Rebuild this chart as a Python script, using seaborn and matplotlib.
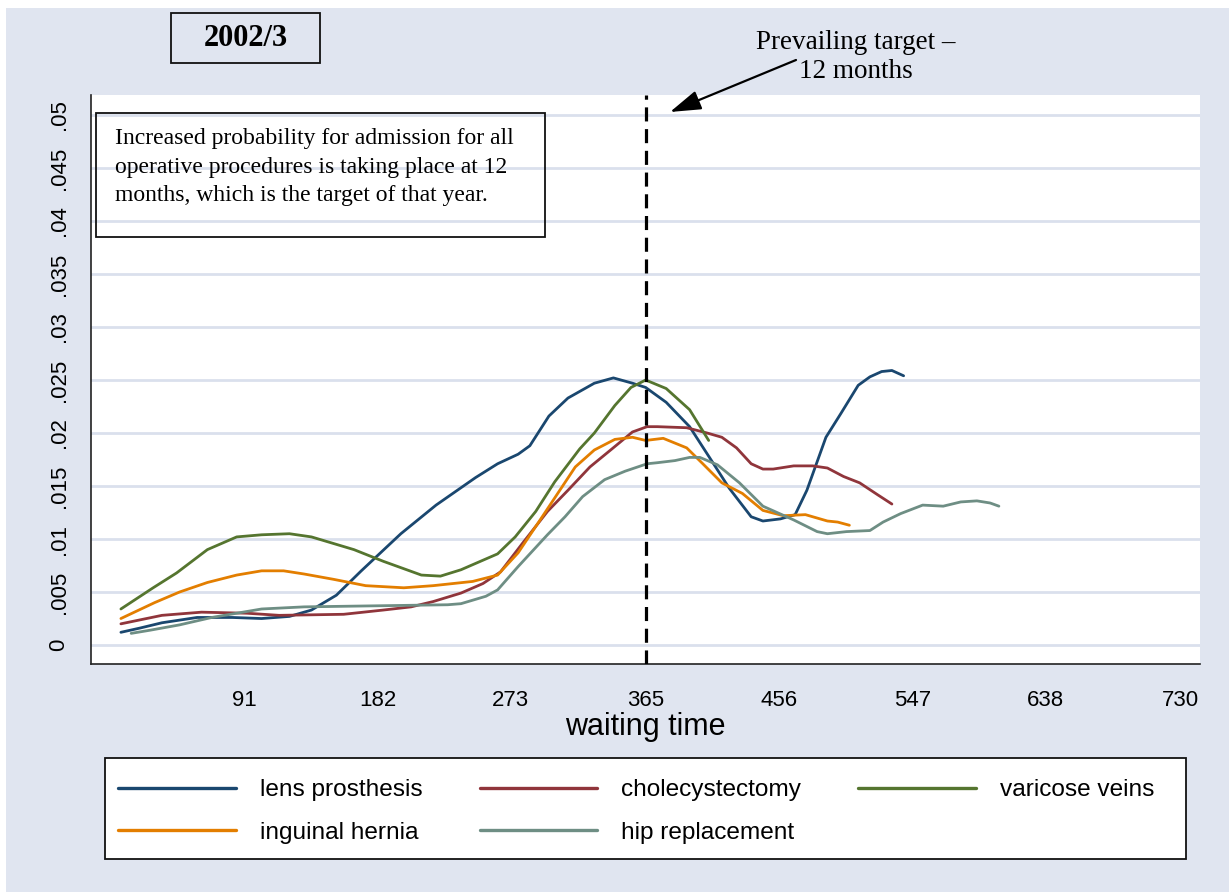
import matplotlib
matplotlib.use("Agg")
import matplotlib.pyplot as plt
from matplotlib.patches import Rectangle, FancyArrowPatch
from matplotlib.lines import Line2D
import pandas as pd
import seaborn as sns

# ---- data: smoothed admission hazard by waiting time (days) ----
lens_x = [7, 20, 35, 59, 83, 103, 122, 137, 154, 171, 198, 222, 249, 264, 278, 286,
          299, 312, 330, 343, 356, 365, 379, 395, 409, 422, 437, 445, 457, 467, 475,
          488, 498, 510, 518, 526, 533, 541]
lens_y = [.0012, .0016, .0021, .0026, .0026, .0025, .0027, .0033, .0047, .0070, .0105,
          .0132, .0158, .0171, .0180, .0188, .0216, .0233, .0247, .0252, .0247, .0243,
          .0229, .0206, .0176, .0148, .0121, .0117, .0119, .0123, .0146, .0196, .0218,
          .0245, .0253, .0258, .0259, .0254]

chole_x = [7, 35, 62, 93, 115, 159, 186, 205, 220, 239, 254, 266, 281, 298, 312, 327,
           342, 356, 366, 373, 393, 407, 417, 427, 437, 445, 452, 466, 479, 489, 500,
           511, 523, 533]
chole_y = [.0020, .0028, .0031, .0030, .0028, .0029, .0033, .0036, .0041, .0049, .0058,
           .0069, .0096, .0126, .0146, .0168, .0185, .0201, .0206, .0206, .0205, .0200,
           .0196, .0186, .0171, .0166, .0166, .0169, .0169, .0167, .0159, .0153, .0142,
           .0133]

varic_x = [7, 29, 45, 66, 86, 103, 122, 137, 166, 186, 212, 225, 239, 254, 264, 276,
           290, 303, 320, 330, 344, 355, 365, 379, 395, 408]
varic_y = [.0034, .0054, .0068, .0090, .0102, .0104, .0105, .0102, .0090, .0079, .0066,
           .0065, .0071, .0080, .0086, .0102, .0126, .0154, .0185, .0200, .0226, .0243,
           .0250, .0242, .0222, .0193]

hernia_x = [7, 30, 47, 66, 86, 103, 118, 132, 152, 174, 200, 220, 247, 264, 278, 293,
            305, 317, 330, 344, 356, 365, 377, 393, 404, 417, 431, 445, 459, 474, 489,
            496, 504]
hernia_y = [.0025, .0040, .0050, .0059, .0066, .0070, .0070, .0067, .0062, .0056, .0054,
            .0056, .0060, .0066, .0087, .0118, .0143, .0168, .0184, .0194, .0196, .0193,
            .0195, .0186, .0171, .0153, .0143, .0127, .0122, .0123, .0117, .0116, .0113]

hip_x = [14, 27, 47, 69, 103, 132, 181, 230, 239, 256, 264, 278, 298, 310, 322, 337,
         351, 366, 373, 385, 395, 402, 414, 429, 445, 466, 482, 489, 502, 518, 527, 539,
         554, 568, 580, 591, 600, 606]
hip_y = [.0011, .0014, .0019, .0026, .0034, .0036, .0037, .0038, .0039, .0046, .0052,
         .0074, .0104, .0121, .0140, .0156, .0164, .0171, .0172, .0174, .0177, .0177,
         .0170, .0153, .0131, .0118, .0107, .0105, .0107, .0108, .0116, .0124, .0132,
         .0131, .0135, .0136, .0134, .0131]

procedures = ["lens prosthesis", "cholecystectomy", "varicose veins",
              "inguinal hernia", "hip replacement"]
colors = ["#1A476F", "#90353B", "#55752F", "#E37E00", "#6E8E84"]

x_ticks = [91, 182, 273, 365, 456, 547, 638, 730]
y_ticks = [0, .005, .01, .015, .02, .025, .03, .035, .04, .045, .05]
y_tick_labels = ["0", ".005", ".01", ".015", ".02", ".025", ".03", ".035", ".04",
                 ".045", ".05"]
target_day = 365

series = {
    "lens prosthesis": (lens_x, lens_y),
    "cholecystectomy": (chole_x, chole_y),
    "varicose veins": (varic_x, varic_y),
    "inguinal hernia": (hernia_x, hernia_y),
    "hip replacement": (hip_x, hip_y),
}
frames = [pd.DataFrame({"days": xs, "prob": ys, "procedure": name})
          for name, (xs, ys) in series.items()]
df = pd.concat(frames, ignore_index=True)

# ---- style ----
sns.set_style("white")
BG = "#E0E5F0"
GRID = "#DAE0ED"
SANS = ["Liberation Sans", "DejaVu Sans"]
SERIF = ["Liberation Serif", "DejaVu Serif"]
plt.rcParams.update({
    "font.family": SANS,
    "text.color": "black",
    "axes.labelcolor": "black",
    "xtick.color": "black",
    "ytick.color": "black",
})

W, H = 1229, 892
fig = plt.figure(figsize=(W / 100, H / 100), dpi=100, facecolor="white")


def fx(x):
    return x / W


def fy(y):
    return 1 - y / H


# outer graph region
fig.patches.append(Rectangle((fx(6), 0), 1 - fx(6), fy(8), transform=fig.transFigure,
                             facecolor=BG, edgecolor="none", zorder=-10))

ax = fig.add_axes([fx(91), fy(664), fx(1200) - fx(91), fy(95) - fy(664)])
ax.set_facecolor("white")

sns.lineplot(data=df, x="days", y="prob", hue="procedure", hue_order=procedures,
             palette=dict(zip(procedures, colors)), linewidth=2.0, estimator=None,
             sort=False, legend=False, ax=ax)

ax.axvline(target_day, color="black", lw=2.3, linestyle=(0, (4.4, 2.4)), zorder=3)

ax.set_xlim(-13.4, 743.2)
ax.set_ylim(-0.00179, 0.05189)
ax.set_xticks(x_ticks)
ax.set_xticklabels([str(t) for t in x_ticks])
ax.set_yticks(y_ticks)
ax.set_yticklabels(y_tick_labels, rotation=90, va="center")
ax.tick_params(axis="both", length=9.4, width=1.0, color="#222222", labelsize=16,
               labelcolor="black", direction="out")
ax.tick_params(axis="x", pad=9)
ax.tick_params(axis="y", pad=6)
ax.yaxis.grid(True, color=GRID, lw=2.0)
ax.xaxis.grid(False)
ax.set_axisbelow(True)
for side in ("top", "right"):
    ax.spines[side].set_visible(False)
for side in ("left", "bottom"):
    ax.spines[side].set_color("#222222")
    ax.spines[side].set_linewidth(1.2)
ax.set_xlabel("waiting time", fontsize=22, labelpad=1)
ax.set_ylabel("")

# legend (column-major order so rows read across)
handles = {name: Line2D([], [], color=c, lw=2.4) for name, c in zip(procedures, colors)}
leg_order = ["lens prosthesis", "inguinal hernia", "cholecystectomy",
             "hip replacement", "varicose veins"]
fig.patches.append(Rectangle((fx(105), fy(859)), fx(1186) - fx(105), fy(758) - fy(859),
                             transform=fig.transFigure, facecolor="white",
                             edgecolor="#111111", lw=1.3, zorder=4))
fig.legend([handles[n] for n in leg_order], leg_order, loc="upper left",
           bbox_to_anchor=(fx(106), fy(767)), ncol=3, frameon=False, borderpad=0,
           fontsize=17.6, handlelength=4.82, handletextpad=0.98, columnspacing=2.33,
           labelspacing=0.84)

# year box
fig.patches.append(Rectangle((fx(171), fy(63)), fx(320) - fx(171), fy(13) - fy(63),
                             transform=fig.transFigure, facecolor="none",
                             edgecolor="#111111", lw=1.3, zorder=4))
fig.text(fx(245.5), fy(38), "2002/3", ha="center", va="center", fontsize=22,
         fontweight="bold", family=SERIF)

# note box
fig.patches.append(Rectangle((fx(96), fy(237)), fx(545) - fx(96), fy(113) - fy(237),
                             transform=fig.transFigure, facecolor="none",
                             edgecolor="#111111", lw=1.3, zorder=4))
fig.text(fx(115), fy(167),
         "Increased probability for admission for all\n"
         "operative procedures is taking place at 12\n"
         "months, which is the target of that year.",
         ha="left", va="center", fontsize=17, family=SERIF, linespacing=1.48)

# target annotation
fig.text(fx(856), fy(57), "Prevailing target \u2013\n12 months", ha="center",
         va="center", multialignment="center", fontsize=19.5, family=SERIF,
         linespacing=1.22)
fig.patches.append(FancyArrowPatch((fx(796), fy(60)), (fx(670), fy(112)),
                                   transform=fig.transFigure,
                                   arrowstyle="-|>,head_length=0.95,head_width=0.3",
                                   mutation_scale=20, color="black", lw=1.6,
                                   shrinkA=0, shrinkB=0, zorder=6))

fig.savefig("out.png", dpi=100, facecolor=fig.get_facecolor())
